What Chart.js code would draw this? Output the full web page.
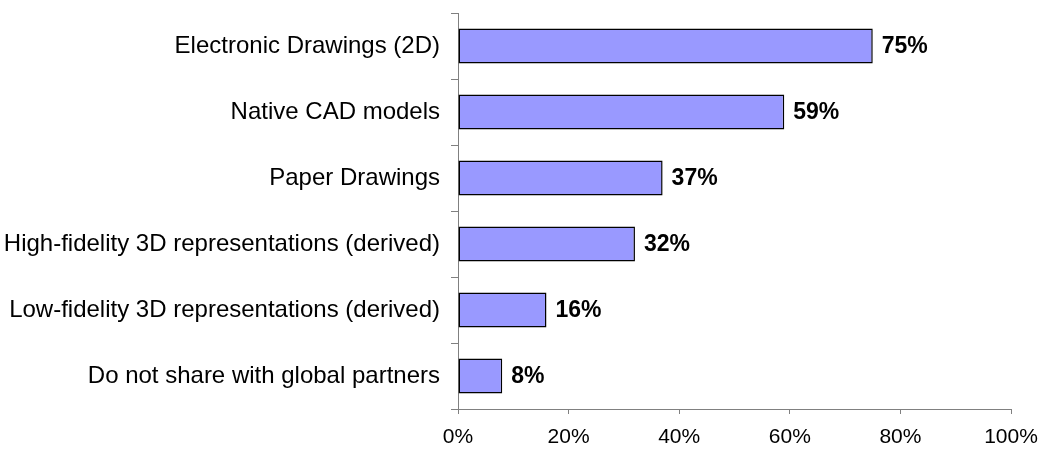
<!DOCTYPE html>
<html>
<head>
<meta charset="utf-8">
<script src="https://cdn.jsdelivr.net/npm/chart.js@4.4.1/dist/chart.umd.min.js"></script>
<style>
    html, body { margin: 0; padding: 0; background: #fff; }
    #wrap { width: 1042px; height: 449px; }
</style>
</head>
<body>
<div id="wrap"><canvas id="myChart" width="1042" height="449"></canvas></div>
<script>
const categories = [
    'Electronic Drawings (2D)',
    'Native CAD models',
    'Paper Drawings',
    'High-fidelity 3D representations (derived)',
    'Low-fidelity 3D representations (derived)',
    'Do not share with global partners'
];
const shares = [75, 59, 37, 32, 16, 8];
const xTicks = [0, 20, 40, 60, 80, 100];

const FONT = "'Liberation Sans', Arial, sans-serif";
const AXIS_GREY = '#808080';

// writes the percentage to the right of each bar
const barValueLabels = {
    id: 'barValueLabels',
    afterDatasetsDraw(chart) {
        const ctx = chart.ctx;
        const meta = chart.getDatasetMeta(0);
        ctx.save();
        ctx.font = 'bold 23px ' + FONT;
        ctx.fillStyle = '#000';
        ctx.textAlign = 'left';
        ctx.textBaseline = 'middle';
        meta.data.forEach((bar, i) => {
            ctx.fillText(shares[i] + '%', bar.x + 9, bar.y + 1);
        });
        ctx.restore();
    }
};

const ctx = document.getElementById('myChart').getContext('2d');
const myChart = new Chart(ctx, {
    type: 'bar',
    data: {
        labels: categories,
        datasets: [{
            data: shares,
            backgroundColor: '#9999FF',
            borderColor: '#000',
            borderWidth: 1.5,
            borderSkipped: false,
            barPercentage: 0.53,
            categoryPercentage: 1
        }]
    },
    options: {
        indexAxis: 'y',
        responsive: false,
        animation: false,
        layout: { padding: { top: 13, right: 31, left: 0, bottom: 0 } },
        plugins: {
            legend: { display: false },
            tooltip: { enabled: false }
        },
        scales: {
            x: {
                min: 0,
                max: 100,
                afterBuildTicks: (scale) => { scale.ticks = xTicks.map(v => ({ value: v })); },
                afterFit: (scale) => {
                    scale.height = 40;
                    scale.paddingLeft = 0;
                    scale.paddingRight = 0;
                },
                grid: { drawOnChartArea: false, drawTicks: true, tickLength: 5, color: AXIS_GREY },
                border: { color: AXIS_GREY, width: 1 },
                ticks: {
                    color: '#000',
                    padding: 11,
                    maxRotation: 0,
                    font: { family: FONT, size: 21 },
                    callback: (v) => v + '%'
                }
            },
            y: {
                afterFit: (scale) => {
                    scale.width = 458;
                    scale.paddingTop = 0;
                    scale.paddingBottom = 0;
                },
                grid: { offset: true, drawOnChartArea: false, drawTicks: true, tickLength: 7, color: AXIS_GREY },
                border: { color: AXIS_GREY, width: 1 },
                ticks: {
                    color: '#000',
                    padding: 11,
                    autoSkip: false,
                    font: { family: FONT, size: 24 }
                }
            }
        }
    },
    plugins: [barValueLabels]
});
</script>
</body>
</html>
